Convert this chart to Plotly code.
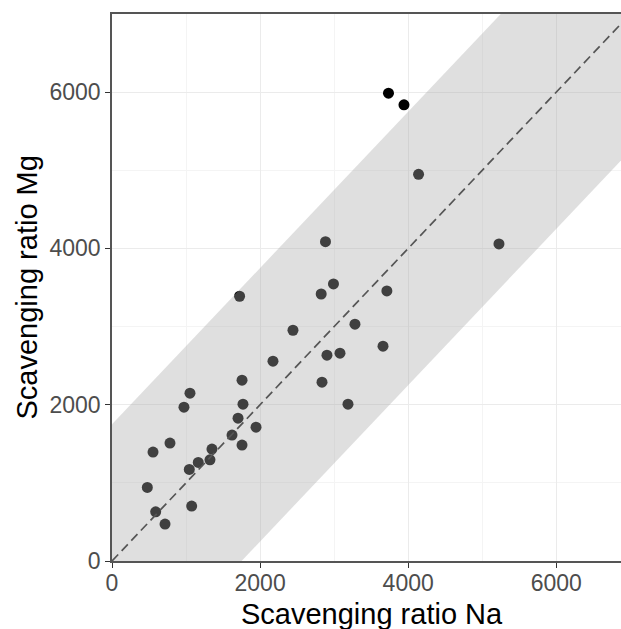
import plotly.graph_objects as go

# Data
na = [3734, 3943, 4140, 5226, 2883, 1723, 2991, 2825, 3712, 2444, 3281, 3660, 2174,
      2903, 3079, 1756, 2836, 1769, 3187, 1053, 972, 1702, 1945, 1621, 1756, 783,
      554, 1350, 1323, 1165, 1044, 477, 590, 1076, 716]
mg = [5987, 5838, 4948, 4057, 4087, 3388, 3545, 3417, 3456, 2953, 3030, 2749, 2557,
      2634, 2659, 2314, 2288, 2007, 2007, 2148, 1969, 1828, 1713, 1611, 1483, 1509,
      1394, 1432, 1295, 1262, 1172, 942, 630, 703, 473]

band_halfwidth = 1750
line_x = [0, 2000, 4000, 6000, 8000, 10000]
x_ticks = [0, 2000, 4000, 6000]
y_ticks = [0, 2000, 4000, 6000]
x_range = [0, 6874]
y_range = [0, 7000]

W, H = 621, 629
ML, MR, MT, MB = 112, 0, 14, 68

band_x = line_x + line_x[::-1]
band_y = [v - band_halfwidth for v in line_x] + [v + band_halfwidth for v in line_x[::-1]]

fig = go.Figure()
fig.add_trace(go.Scatter(x=na, y=mg, mode="markers",
                         marker=dict(size=11, color="black", line=dict(width=0)),
                         showlegend=False, hoverinfo="x+y"))
fig.add_trace(go.Scatter(x=band_x, y=band_y, mode="lines", fill="toself",
                         fillcolor="rgba(170,170,170,0.376)", line=dict(width=0),
                         showlegend=False, hoverinfo="skip"))
fig.add_trace(go.Scatter(x=line_x, y=line_x, mode="lines",
                         line=dict(color="#555555", width=1.7, dash="9px,5px"),
                         showlegend=False, hoverinfo="skip"))

tickfont = dict(family="Liberation Sans, Arial, sans-serif", size=23, color="#4D4D4D")
titlefont = dict(family="Liberation Sans, Arial, sans-serif", size=29, color="black")

fig.update_layout(
    width=W, height=H,
    margin=dict(l=ML, r=MR, t=MT, b=MB, pad=0),
    paper_bgcolor="white", plot_bgcolor="white",
    xaxis=dict(range=x_range, tickvals=x_ticks, ticktext=[str(v) for v in x_ticks],
               showgrid=True, gridcolor="#EBEBEB", gridwidth=1,
               minor=dict(dtick=1000, showgrid=True, gridcolor="#F4F4F4", gridwidth=0.6),
               zeroline=False, showline=True, linecolor="#555555", linewidth=1.6,
               mirror=True, ticks="outside", ticklen=5, tickwidth=1.4, tickcolor="#333333",
               ticklabelstandoff=-4,
               tickfont=tickfont, fixedrange=True),
    yaxis=dict(range=y_range, tickvals=y_ticks, ticktext=[str(v) for v in y_ticks],
               showgrid=True, gridcolor="#EBEBEB", gridwidth=1,
               minor=dict(dtick=1000, showgrid=True, gridcolor="#F4F4F4", gridwidth=0.6),
               zeroline=False, showline=True, linecolor="#555555", linewidth=1.6,
               mirror=False, ticks="outside", ticklen=5, tickwidth=1.4, tickcolor="#333333",
               tickfont=tickfont, fixedrange=True),
    annotations=[
        dict(text="Scavenging ratio Na", xref="paper", yref="paper",
             x=(372 - ML) / (W - ML - MR), y=-(614 - (H - MB)) / (H - MT - MB),
             xanchor="center", yanchor="middle", showarrow=False, font=titlefont),
        dict(text="Scavenging ratio Mg", xref="paper", yref="paper",
             x=-(ML - 26) / (W - ML - MR), y=0.5, textangle=-90,
             xanchor="center", yanchor="middle", showarrow=False, font=titlefont),
    ],
)

fig.write_html("out.html")
